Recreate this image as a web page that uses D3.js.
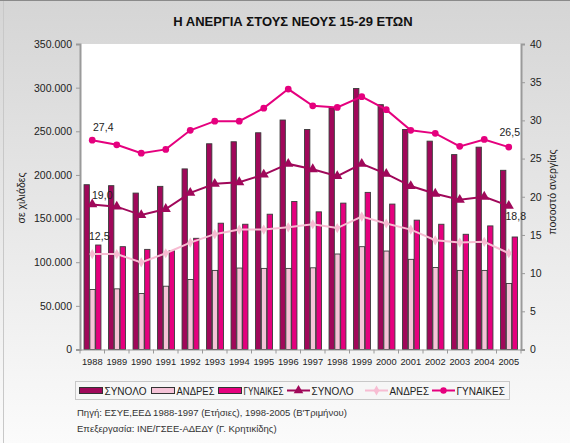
<!DOCTYPE html>
<html><head><meta charset="utf-8">
<script src="https://cdn.jsdelivr.net/npm/d3@7"></script>
<style>body{margin:0;padding:0;}svg{display:block;font-family:"Liberation Sans",Arial,sans-serif;}</style>
</head><body>
<svg id="c" width="570" height="443"></svg>
<script>
const years = ["1988","1989","1990","1991","1992","1993","1994","1995","1996","1997","1998","1999","2000","2001","2002","2003","2004","2005"];
const totalBars = [188800,187700,179200,186900,206900,235700,238000,248300,262900,252100,277100,299000,280500,252100,238700,223300,231800,205300];
const menBars = [68700,69500,64100,72500,80200,90600,93300,92900,92900,93600,109400,117800,112800,103300,94000,90600,90600,75600];
const womenBars = [119700,117800,114700,113200,127400,144700,143500,155000,169600,157700,167700,180000,166600,148200,143500,132000,141600,128900];
const totalRate = [19.0,18.7,17.6,18.4,20.5,21.7,21.9,22.9,24.3,23.6,22.7,24.3,23.0,21.4,20.4,19.6,20.0,18.8];
const menRate = [12.5,12.5,11.4,12.6,14.0,15.1,15.7,15.7,16.0,16.4,15.9,17.4,16.5,15.7,14.3,14.0,14.1,12.6];
const womenRate = [27.4,26.8,25.7,26.2,28.7,29.9,29.9,31.6,34.1,31.9,31.7,33.1,31.4,28.7,28.3,26.6,27.5,26.5];
const leftTicks = [0,50000,100000,150000,200000,250000,300000,350000];
const rightTicks = [0,5,10,15,20,25,30,35,40];
const barNames = ["ΣΥΝΟΛΟ","ΑΝΔΡΕΣ","ΓΥΝΑΙΚΕΣ"];
const lineNames = ["ΣΥΝΟΛΟ","ΑΝΔΡΕΣ","ΓΥΝΑΙΚΕΣ"];
const title = "Η ΑΝΕΡΓΙΑ ΣΤΟΥΣ ΝΕΟΥΣ 15-29 ΕΤΩΝ";
const leftTitle = "σε χιλιάδες";
const rightTitle = "ποσοστό ανεργίας";
const notes = ["Πηγή: ΕΣΥΕ,ΕΕΔ 1988-1997 (Ετήσιες), 1998-2005 (Β'Τριμήνου)","Επεξεργασία: ΙΝΕ/ΓΣΕΕ-ΑΔΕΔΥ (Γ. Κρητικίδης)"];

const cDark = "#a0085a", cPink = "#e5007e", cLight = "#f5c3d7", cMenLine = "#f7bcd2";
const barColors = [cDark, cLight, cPink];
const lineColors = [cDark, cMenLine, cPink];

const svg = d3.select("#c");
const defs = svg.append("defs");
const g = defs.append("linearGradient").attr("id","bg").attr("x1",0).attr("y1",0).attr("x2",0).attr("y2",1);
g.append("stop").attr("offset","0%").attr("stop-color","#d5d5d5");
g.append("stop").attr("offset","100%").attr("stop-color","#fbfbfb");
svg.append("rect").attr("width",570).attr("height",443).attr("fill","url(#bg)");
svg.append("line").attr("x1",0).attr("x2",570).attr("y1",0.5).attr("y2",0.5).attr("stroke","#8a8a8a");
svg.append("line").attr("x1",3.5).attr("x2",3.5).attr("y1",1).attr("y2",443).attr("stroke","#c8c8c8");

const L = 80, R = 521, T = 44, B = 349.5;
svg.append("rect").attr("x",L).attr("y",T).attr("width",R-L).attr("height",B-T).attr("fill","#fff");

const loc = d3.formatLocale({decimal:",",thousands:".",grouping:[3],currency:["","€"]});
const fThou = loc.format(",.0f");
const fDec = loc.format(".1f");

const x = d3.scaleBand().domain(years).range([L,R]).paddingInner(0.29).paddingOuter(0.145);
const x1 = d3.scaleBand().domain([0,1,2]).range([0,x.bandwidth()]);
const yL = d3.scaleLinear().domain([0,350000]).range([B,T]);
const yR = d3.scaleLinear().domain([0,40]).range([B,T]);

// bars
const series = [totalBars, menBars, womenBars];
const gb = svg.append("g");
series.forEach((s,si)=>{
  gb.selectAll(null).data(years).enter().append("rect")
    .attr("x",d=>x(d)+x1(si)+0.5)
    .attr("y",(d,i)=>yL(s[i]))
    .attr("width",x1.bandwidth()-0.5)
    .attr("height",(d,i)=>B-yL(s[i]))
    .attr("fill",barColors[si])
    .attr("stroke","#3a3a3a").attr("stroke-width",0.9);
});

// axes
const axL = svg.append("g").attr("transform",`translate(${L},0)`)
  .call(d3.axisLeft(yL).tickValues(leftTicks).tickFormat(fThou).tickSize(4).tickPadding(4));
const axR = svg.append("g").attr("transform",`translate(${R},0)`)
  .call(d3.axisRight(yR).tickValues(rightTicks).tickSize(4).tickPadding(5));
const axB = svg.append("g").attr("transform",`translate(0,${B})`)
  .call(d3.axisBottom(x).tickSize(0).tickPadding(9));
[axL,axR,axB].forEach(a=>{
  a.select(".domain").attr("stroke","#9a9a9a").attr("stroke-width",2);
  a.selectAll(".tick line").attr("stroke","#9a9a9a");
  a.selectAll("text").attr("font-size",10.5).attr("fill","#222").attr("font-family","Liberation Sans, Arial, sans-serif");
});
axB.select(".domain").attr("stroke-width",1.2);
axB.selectAll("text").attr("font-size",9.3);
// category boundary ticks
svg.append("g").selectAll("line").data(years.concat(["end"])).enter().append("line")
  .attr("x1",(d,i)=>x.range()[0]+i*x.step()).attr("x2",(d,i)=>x.range()[0]+i*x.step())
  .attr("y1",B).attr("y2",B+4).attr("stroke","#9a9a9a");

// lines
const cx = d=>x(d)+x.bandwidth()/2;
const rates = [totalRate, menRate, womenRate];
rates.forEach((r,ri)=>{
  const line = d3.line().x((d,i)=>cx(years[i])).y(d=>yR(d));
  svg.append("path").datum(r).attr("d",line).attr("fill","none").attr("stroke",lineColors[ri]).attr("stroke-width",2);
  const sym = [d3.symbolTriangle, d3.symbolDiamond, d3.symbolCircle][ri];
  const size = [45, 30, 36][ri];
  svg.append("g").selectAll("path").data(r).enter().append("path")
    .attr("d",d3.symbol().type(sym).size(size))
    .attr("transform",(d,i)=>`translate(${cx(years[i])},${yR(d)})`)
    .attr("fill",lineColors[ri]);
});

// data labels
const n = years.length-1;
const labs = [
  {v:womenRate[0], i:0, dx:11, dy:-9},
  {v:totalRate[0], i:0, dx:10, dy:-5},
  {v:menRate[0], i:0, dx:7, dy:-14},
  {v:womenRate[n], i:n, dx:1, dy:-11},
  {v:totalRate[n], i:n, dx:7, dy:14}
];
svg.append("g").selectAll("text").data(labs).enter().append("text")
  .attr("x",d=>cx(years[d.i])+d.dx).attr("y",d=>yR(d.v)+d.dy)
  .attr("text-anchor","middle").attr("font-size",10.5).attr("fill","#222")
  .text(d=>fDec(d.v));

// title
svg.append("text").attr("x",293).attr("y",26).attr("text-anchor","middle")
  .attr("font-size",13).attr("font-weight","bold").attr("fill","#111").text(title);
svg.append("text").attr("transform","translate(25,198) rotate(-90)").attr("text-anchor","middle")
  .attr("font-size",10.5).attr("fill","#222").text(leftTitle);
svg.append("text").attr("transform","translate(556,192) rotate(-90)").attr("text-anchor","middle")
  .attr("font-size",10.5).attr("fill","#222").text(rightTitle);

// legend
const lg = svg.append("g");
lg.append("rect").attr("x",75.5).attr("y",381.5).attr("width",434).attr("height",18).attr("fill","#f6f6f6").attr("stroke","#c8c8c8");
const legX = [79,151,218];
const legLX = [287,365,432];
const starts = legX.concat(legLX, [509]);
function fitText(sel, avail){
  const w = sel.node().getComputedTextLength();
  if (w > avail) sel.attr("textLength",avail).attr("lengthAdjust","spacingAndGlyphs");
}
barNames.forEach((nm,i)=>{
  lg.append("rect").attr("x",legX[i]+0.5).attr("y",387.5).attr("width",23).attr("height",6)
    .attr("fill",barColors[i]).attr("stroke","#333");
  const t = lg.append("text").attr("x",legX[i]+25.5).attr("y",394.5).attr("font-size",10).attr("fill","#222").text(nm);
  fitText(t, starts[i+1] - (legX[i]+25.5) - 3.5);
});
lineNames.forEach((nm,i)=>{
  lg.append("line").attr("x1",legLX[i]).attr("x2",legLX[i]+23).attr("y1",390.5).attr("y2",390.5)
    .attr("stroke",lineColors[i]).attr("stroke-width",2);
  const sym = [d3.symbolTriangle, d3.symbolDiamond, d3.symbolCircle][i];
  lg.append("path").attr("d",d3.symbol().type(sym).size([40,28,32][i]))
    .attr("transform",`translate(${legLX[i]+11.5},390.5)`).attr("fill",lineColors[i]);
  const t = lg.append("text").attr("x",legLX[i]+24.5).attr("y",394.5).attr("font-size",10).attr("fill","#222").text(nm);
  fitText(t, starts[i+4] - (legLX[i]+24.5) - 3);
});

// notes
notes.forEach((t,i)=>{
  svg.append("text").attr("x",77).attr("y",416+i*16).attr("font-size",9.5).attr("fill","#333").text(t);
});
</script>
</body></html>
